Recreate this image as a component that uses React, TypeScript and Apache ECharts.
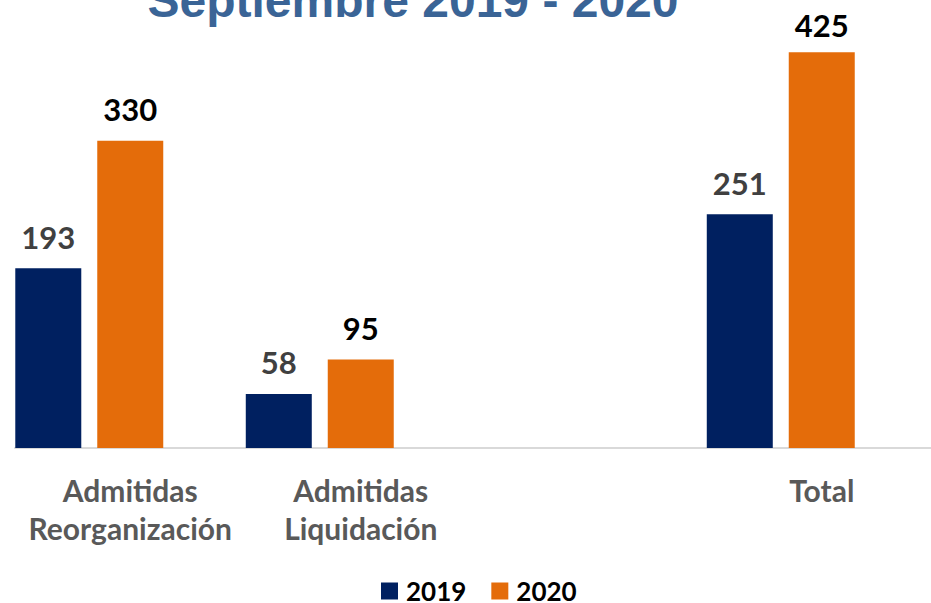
import React, { useEffect, useRef } from "react";
import * as echarts from "echarts";

const categories = ["Admitidas\nReorganización", "Admitidas\nLiquidación", "", "Total"];
const values2019 = [193, 58, null, 251];
const values2020 = [330, 95, null, 425];
const valuesEmpty = [null, null, null, null];
const seriesNames = ["2019", "2020"];
const titleText = "Septiembre 2019 - 2020";

export default function App() {
  const ref = useRef<HTMLDivElement>(null);
  useEffect(() => {
    if (!ref.current) return;
    const chart = echarts.init(ref.current, null, { renderer: "svg" });
    const labelFont = "Lato, 'Open Sans', sans-serif";
    const data2020 = values2020.map((v, i) =>
      i === values2020.length - 1 ? { value: v, label: { distance: 12 } } : v
    );
    chart.setOption({
      animation: false,
      backgroundColor: "#ffffff",
      graphic: [
        {
          type: "text",
          x: 413,
          y: 0,
          style: {
            text: titleText,
            fill: "#3A6496",
            font: "bold 48px 'Liberation Sans', Arial, sans-serif",
            textAlign: "center",
            textVerticalAlign: "middle",
          },
        },
      ],
      legend: {
        data: seriesNames,
        left: 381,
        top: 578,
        padding: 0,
        itemWidth: 17,
        itemHeight: 17,
        itemGap: 25,
        icon: "rect",
        textStyle: {
          fontFamily: labelFont,
          fontWeight: "bold",
          fontSize: 26,
          lineHeight: 18,
          color: "#000000",
          padding: [0, 0, 0, 3],
        },
      },
      grid: { left: 15, right: 3, top: 29, height: 419, containLabel: false },
      xAxis: {
        type: "category",
        data: categories,
        axisTick: { show: false },
        axisLine: { show: true, lineStyle: { color: "#d9d9d9", width: 2 } },
        axisLabel: {
          interval: 0,
          margin: 23,
          color: "#595959",
          fontFamily: labelFont,
          fontWeight: "bold",
          fontSize: 30,
          lineHeight: 38,
        },
      },
      yAxis: {
        type: "value",
        min: 0,
        max: 450,
        show: false,
        splitLine: { show: false },
      },
      series: [
        {
          name: seriesNames[0],
          type: "bar",
          data: values2019,
          barWidth: 66,
          barGap: "24.2%",
          itemStyle: { color: "#002060" },
          label: {
            show: true,
            position: "top",
            distance: 16,
            color: "#404040",
            fontFamily: labelFont,
            fontWeight: "bold",
            fontSize: 31,
          },
        },
        {
          name: seriesNames[1],
          type: "bar",
          data: data2020,
          barWidth: 66,
          barGap: "24.2%",
          itemStyle: { color: "#E46C0A" },
          label: {
            show: true,
            position: "top",
            distance: 16,
            color: "#000000",
            fontFamily: labelFont,
            fontWeight: "bold",
            fontSize: 31,
          },
        },
        {
          name: "",
          type: "bar",
          data: valuesEmpty,
          barWidth: 66,
          barGap: "24.2%",
          itemStyle: { color: "#A5A5A5" },
        },
      ],
    });
    return () => chart.dispose();
  }, []);
  return (
    <div style={{ width: 931, height: 603, position: "absolute", left: 0, top: 0, overflow: "hidden" }}>
      <div ref={ref} style={{ width: 940, height: 603 }} />
    </div>
  );
}
